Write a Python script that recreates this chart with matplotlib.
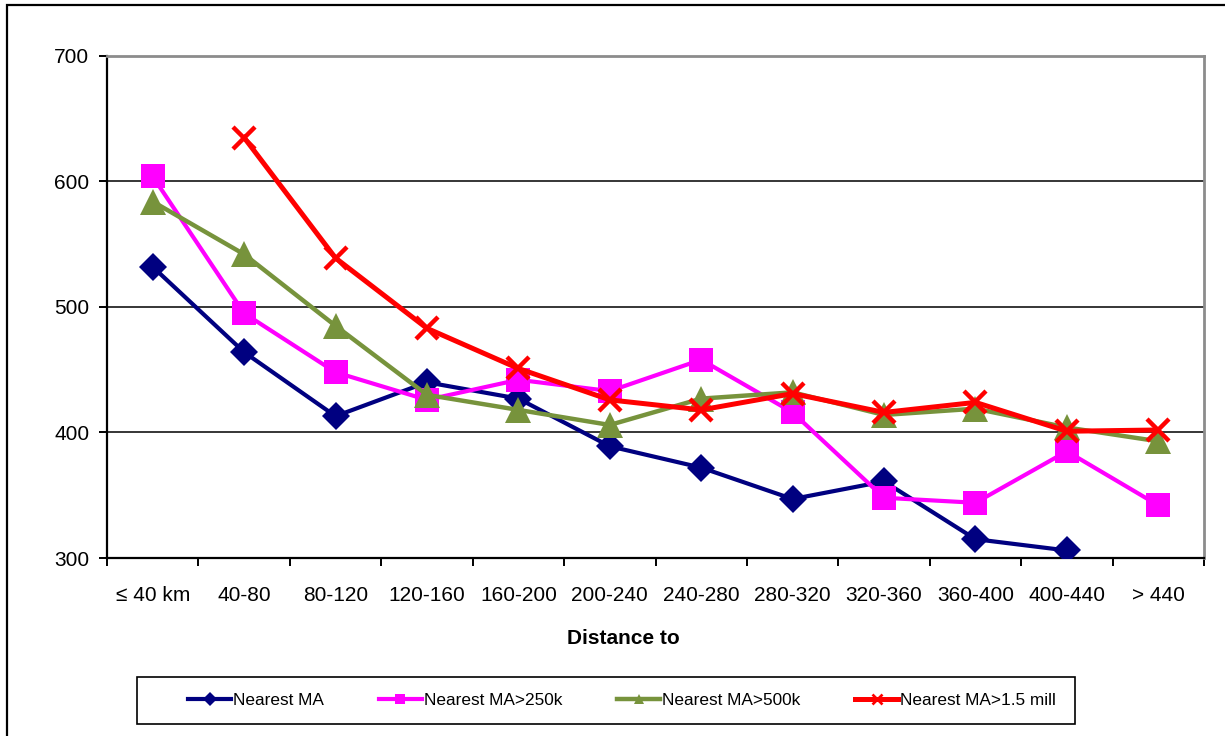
import matplotlib.pyplot as plt
import matplotlib.patches as patches
import numpy as np

plt.rcParams['font.family'] = ['Liberation Sans', 'DejaVu Sans']

categories = ['≤ 40 km', '40-80', '80-120', '120-160', '160-200', '200-240',
              '240-280', '280-320', '320-360', '360-400', '400-440', '> 440']

nearest_ma = [532, 464, 413, 440, 427, 389, 372, 347, 361, 315, 306, None]
nearest_250k = [604, 495, 448, 426, 442, 433, 458, 416, 348, 344, 385, 342]
nearest_500k = [584, 542, 485, 430, 418, 406, 427, 432, 414, 419, 404, 393]
nearest_15m = [None, 635, 539, 483, 451, 426, 418, 431, 416, 424, 401, 402]

x = np.arange(len(categories))


def arr(vals):
    return np.array([np.nan if v is None else v for v in vals], dtype=float)


W, H = 1225, 736
fig = plt.figure(figsize=(W / 100, H / 100), dpi=100)
ax = fig.add_axes([107 / W, 1 - 558 / H, 1097 / W, 502 / H])

# outer chart frame (runs off the right and bottom edges)
fig.patches.append(patches.Rectangle((7 / W, -0.05), 1.1, 0.05 + 1 - 5 / H,
                                     transform=fig.transFigure, fill=False,
                                     edgecolor='black', linewidth=1.6))
# legend box
fig.patches.append(patches.Rectangle((137 / W, 1 - 724 / H), 938 / W, 47 / H,
                                     transform=fig.transFigure, fill=False,
                                     edgecolor='black', linewidth=1.2))

ax.plot(x, arr(nearest_ma), color='#000080', lw=3, marker='D', ms=14,
        mew=0, label='Nearest MA', zorder=3)
ax.plot(x, arr(nearest_250k), color='#FF00FF', lw=3, marker='s', ms=17.5,
        mew=0, label='Nearest MA>250k', zorder=4)
ax.plot(x, arr(nearest_500k), color='#77933C', lw=3.2, marker='^', ms=18.5,
        mew=0, label='Nearest MA>500k', zorder=5)
ax.plot(x, arr(nearest_15m), color='#FF0000', lw=3.6, marker='x', ms=16,
        mew=3.2, label='Nearest MA>1.5 mill', zorder=6)

ax.set_xlim(-0.5, len(categories) - 0.5)
ax.set_ylim(300, 700)
ax.set_yticks([300, 400, 500, 600, 700])
ax.yaxis.grid(True, color='black', linewidth=1.1)
ax.set_axisbelow(True)

ax.set_xticks(x)
ax.set_xticklabels(categories, fontsize=15)
ax.set_xticks(np.arange(-0.5, len(categories)), minor=True)
ax.tick_params(axis='x', which='major', length=0, pad=20)
ax.tick_params(axis='x', which='minor', length=6, width=1.4, direction='out')
ax.tick_params(axis='y', length=6, width=1.4, direction='out', labelsize=15, pad=6.8)

for side in ['left', 'bottom']:
    ax.spines[side].set_color('black')
    ax.spines[side].set_linewidth(1.6)
for side in ['top', 'right']:
    ax.spines[side].set_color('#8c8c8c')
    ax.spines[side].set_linewidth(2)

ax.set_xlabel('Distance to', fontsize=15, fontweight='bold')
ax.xaxis.set_label_coords(0.471, -0.141)

leg = fig.legend(loc='center', bbox_to_anchor=(622 / W, 1 - 700 / H),
                 ncol=4, fontsize=12.4, frameon=False,
                 handlelength=2.5, handletextpad=0.1,
                 columnspacing=3.2, borderpad=0.0)
for h in leg.legend_handles:
    h.set_markersize(7.5)
    h.set_markeredgewidth(h.get_markeredgewidth() * 0.6)

fig.savefig('out.png', dpi=100)
